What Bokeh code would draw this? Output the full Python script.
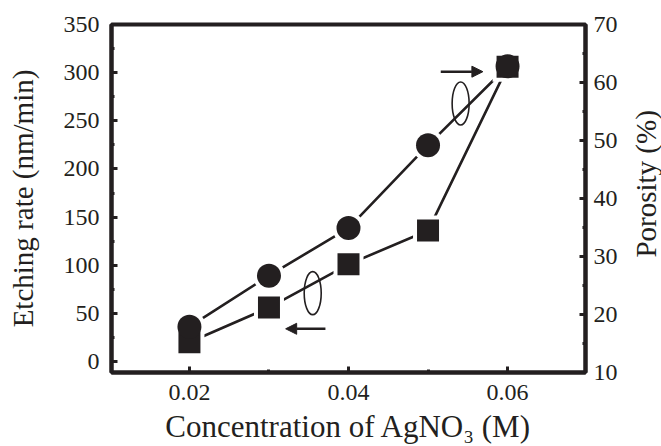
import math
from bokeh.plotting import figure
from bokeh.layouts import row
from bokeh.models import Range1d, LinearAxis, FixedTicker, Arrow, NormalHead
from bokeh.core.properties import value
from bokeh.embed import file_html
from bokeh.resources import INLINE

# ---- data ----
conc = [0.02, 0.03, 0.04, 0.05, 0.06]            # AgNO3 concentration (M)
etch_rate = [20, 56, 101, 136, 306]               # nm/min, left axis (squares)
porosity = [17.9, 26.7, 34.9, 49.2, 62.8]         # %, right axis (circles)

x_ticks = [0.02, 0.04, 0.06]
x_minor = [0.01, 0.03, 0.05, 0.07]
left_ticks = [0, 50, 100, 150, 200, 250, 300, 350]
left_minor = [25, 75, 125, 175, 225, 275, 325]
right_ticks = [10, 20, 30, 40, 50, 60, 70]
right_minor = [15, 25, 35, 45, 55, 65]

x_title = "Concentration of AgNO\u2083 (M)"
left_title = "Etching rate (nm/min)"
right_title = "Porosity (%)"

# annotation anchors (data units, left axis)
arrow_left_x = [0.0371, 0.0321]
arrow_left_y = [34, 34]
arrow_right_x = [0.0516, 0.0569]
arrow_right_y = [301, 301]
ellipse_x = [0.0355, 0.0541]
ellipse_y = [71, 268]

INK = "#231f20"
FONT = "Liberation Serif"

p = figure(width=625, height=446, output_backend="svg", toolbar_location=None,
           x_range=Range1d(0.0102, 0.0698), y_range=Range1d(-11.4, 350),
           min_border_left=111, min_border_right=40, min_border_top=24,
           min_border_bottom=73)
p.extra_y_ranges = {"right": Range1d(10, 70)}
p.xgrid.visible = False
p.ygrid.visible = False
p.outline_line_color = INK
p.outline_line_width = 4
p.background_fill_color = "white"
p.border_fill_color = "white"


def style(ax, label_standoff, title_standoff, title_size):
    ax.axis_line_color = INK
    ax.axis_line_width = 4
    ax.major_tick_line_color = INK
    ax.major_tick_line_width = 3
    ax.major_tick_in = 6
    ax.major_tick_out = 0
    ax.minor_tick_line_color = INK
    ax.minor_tick_line_width = 3
    ax.minor_tick_in = 3
    ax.minor_tick_out = 0
    ax.major_label_text_font = FONT
    ax.major_label_text_font_size = "24px"
    ax.major_label_text_color = INK
    ax.major_label_standoff = label_standoff
    ax.axis_label_text_font = FONT
    ax.axis_label_text_font_size = title_size
    ax.axis_label_text_font_style = "normal"
    ax.axis_label_text_color = INK
    ax.axis_label_standoff = title_standoff


xa = p.xaxis[0]
xa.ticker = FixedTicker(ticks=x_ticks, minor_ticks=x_minor)
xa.axis_label = x_title
style(xa, 12, 6, "31px")

ya = p.yaxis[0]
ya.ticker = FixedTicker(ticks=left_ticks, minor_ticks=left_minor)
ya.axis_label = left_title
style(ya, 12, 22, "29px")

ra = LinearAxis(y_range_name="right")
ra.ticker = FixedTicker(ticks=right_ticks, minor_ticks=right_minor)
style(ra, 8, 0, "29px")
p.add_layout(ra, "right")

# connecting lines
p.line(conc, etch_rate, line_width=2.6, line_color=INK)
p.line(conc, porosity, y_range_name="right", line_width=2.6, line_color=INK)

# white halos leave the small gaps between lines and markers
p.scatter(conc, etch_rate, marker="square", size=30, fill_color="white", line_color=None)
p.scatter(conc, porosity, y_range_name="right", marker="circle", size=32,
          fill_color="white", line_color=None)

# markers
p.scatter(conc, etch_rate, marker="square", size=22, fill_color=INK, line_color=None)
p.scatter(conc, porosity, y_range_name="right", marker="circle", size=24,
          fill_color=INK, line_color=None)

# ellipses marking the series
p.ellipse(ellipse_x, ellipse_y, width=17, height=43, width_units="screen",
          height_units="screen", fill_color=None, line_color=INK, line_width=1.6)

# arrows pointing to the relevant axis
for xs, ys in ((arrow_left_x, arrow_left_y), (arrow_right_x, arrow_right_y)):
    p.add_layout(Arrow(end=NormalHead(size=11, fill_color=INK, line_color=INK, line_width=1),
                       x_start=xs[0], y_start=ys[0], x_end=xs[1], y_end=ys[1],
                       line_width=2.6, line_color=INK))

# narrow strip carrying the right-axis title, reading bottom to top
q = figure(width=36, height=446, output_backend="svg", toolbar_location=None,
           x_range=Range1d(0, 1), y_range=Range1d(0, 1),
           x_axis_location=None, y_axis_location=None, min_border=0)
q.xgrid.visible = False
q.ygrid.visible = False
q.outline_line_color = None
q.background_fill_color = "white"
q.border_fill_color = "white"
q.text(x=[0.56], y=[0.542], text=[right_title], angle=math.pi / 2,
       text_align="center", text_baseline="middle", text_font=value(FONT),
       text_font_size=value("29px"), text_color=INK)

layout = row(p, q)
open("out.html", "w").write(file_html(layout, INLINE))
